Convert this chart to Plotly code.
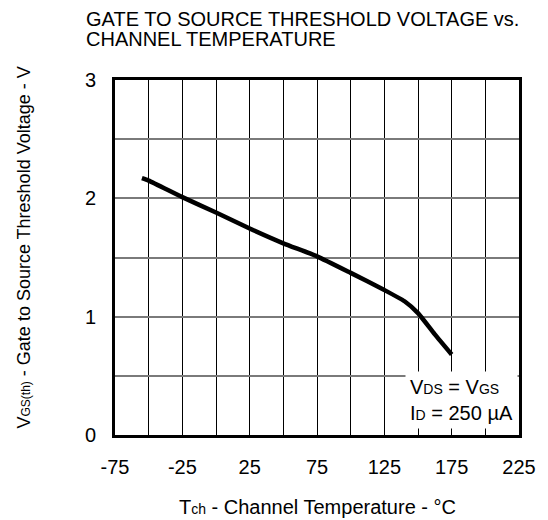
import plotly.graph_objects as go

# Data
temp_c = [-55, -50, -25, 0, 25, 50, 75, 100, 125, 140, 150, 162.5, 175]
vth_v = [2.17, 2.15, 2.01, 1.88, 1.745, 1.62, 1.51, 1.37, 1.225, 1.13, 1.03, 0.85, 0.68]

x_tick_vals = [-75, -50, -25, 0, 25, 50, 75, 100, 125, 150, 175, 200, 225]
x_tick_text = ["-75", "", "-25", "", "25", "", "75", "", "125", "", "175", "", "225"]
y_tick_vals = [0, 0.5, 1, 1.5, 2, 2.5, 3]
y_tick_text = ["0", "", "1", "", "2", "", "3"]

title_lines = ["GATE TO SOURCE THRESHOLD VOLTAGE vs.", "CHANNEL TEMPERATURE"]
x_title = "T<span style='font-size:14px'>ch</span> - Channel Temperature - °C"
y_title = "V<span style='font-size:12px'>GS(th)</span> - Gate to Source Threshold Voltage - V"
cond_text = ("V<span style='font-size:14px'>DS</span> = V<span style='font-size:14px'>GS</span><br>"
             "I<span style='font-size:14px'>D</span> = 250 µA")

FONT = "Liberation Sans, Arial, sans-serif"

fig = go.Figure()
fig.add_trace(go.Scatter(
    x=temp_c, y=vth_v, mode="lines",
    line=dict(color="black", width=4.5, shape="spline", smoothing=0.5),
    hoverinfo="skip", showlegend=False,
))

fig.update_layout(
    width=548, height=520,
    margin=dict(l=115, r=25, t=80, b=85),
    paper_bgcolor="white", plot_bgcolor="white",
    font=dict(family=FONT, size=20, color="black"),
    showlegend=False,
)

fig.update_xaxes(
    range=[-75, 225], tickvals=x_tick_vals, ticktext=x_tick_text,
    showgrid=True, gridcolor="black", gridwidth=1,
    showline=True, linecolor="black", linewidth=3, mirror=True,
    ticks="", ticklabelstandoff=12, zeroline=False,
    tickfont=dict(family=FONT, size=20, color="black"),
)
fig.update_yaxes(
    range=[0, 3], tickvals=y_tick_vals, ticktext=y_tick_text,
    showgrid=True, gridcolor="#7a7a7a", gridwidth=1.5,
    showline=True, linecolor="black", linewidth=3, mirror=True,
    ticks="", ticklabelstandoff=12, zeroline=False,
    tickfont=dict(family=FONT, size=20, color="black"),
)

annotations = [
    dict(text=title_lines[0], xref="paper", yref="paper", x=0, y=1,
         xanchor="left", yanchor="middle", xshift=-31, yshift=61.5,
         showarrow=False, font=dict(family=FONT, size=20, color="black")),
    dict(text=title_lines[1], xref="paper", yref="paper", x=0, y=1,
         xanchor="left", yanchor="middle", xshift=-31, yshift=41,
         showarrow=False, font=dict(family=FONT, size=20, color="black")),
    dict(text=x_title, xref="paper", yref="paper", x=0.5, y=0,
         xanchor="center", yanchor="middle", yshift=-72,
         showarrow=False, font=dict(family=FONT, size=20, color="black")),
    dict(text=y_title, xref="paper", yref="paper", x=0, y=0.5,
         xanchor="center", yanchor="middle", xshift=-92, yshift=10, textangle=-90,
         showarrow=False, font=dict(family=FONT, size=18, color="black")),
    dict(text=cond_text, xref="x", yref="y", x=224, y=0.05,
         xanchor="right", yanchor="bottom", align="left",
         showarrow=False, bgcolor="white", borderpad=4,
         font=dict(family=FONT, size=20, color="black")),
]
fig.update_layout(annotations=annotations)

fig.write_html("out.html")
